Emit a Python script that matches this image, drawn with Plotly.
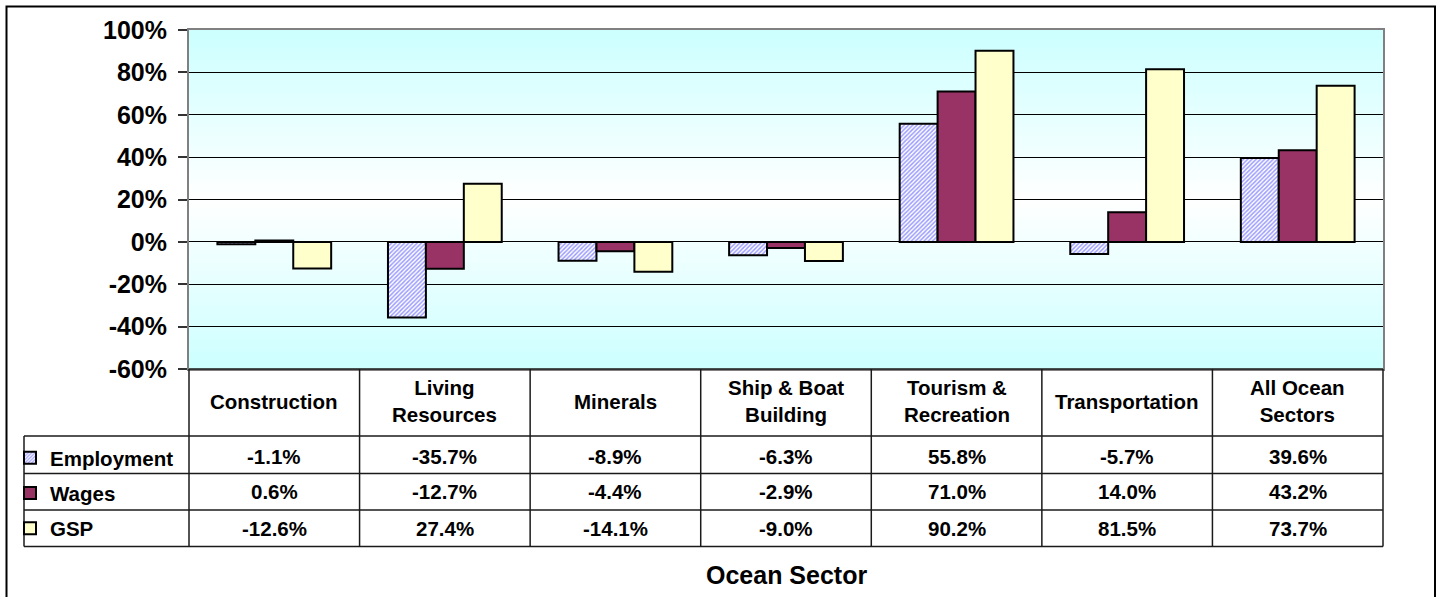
import plotly.graph_objects as go

categories = ["Construction", "Living Resources", "Minerals", "Ship & Boat Building",
              "Tourism & Recreation", "Transportation", "All Ocean Sectors"]
header_labels = ["Construction", "Living<br>Resources", "Minerals", "Ship & Boat<br>Building",
                 "Tourism &<br>Recreation", "Transportation", "All Ocean<br>Sectors"]
employment = [-1.1, -35.7, -8.9, -6.3, 55.8, -5.7, 39.6]
wages = [0.6, -12.7, -4.4, -2.9, 71.0, 14.0, 43.2]
gsp = [-12.6, 27.4, -14.1, -9.0, 90.2, 81.5, 73.7]
series_names = ["Employment", "Wages", "GSP"]
y_ticks = [-60, -40, -20, 0, 20, 40, 60, 80, 100]
y_tick_labels = ["-60%", "-40%", "-20%", "0%", "20%", "40%", "60%", "80%", "100%"]

W, H = 1442, 597
L, R, T, B = 189, 1383, 30, 369   # plot area pixel box
FONT = "Arial, Liberation Sans, sans-serif"
TBL = dict(family=FONT, size=20.5, color="black", weight="bold")


def px_x(px):
    return (px - L) / (R - L)


def px_y(py):
    return (B - py) / (B - T)


fig = go.Figure()
series = [employment, wages, gsp]
colors = ["#FFFFFF", "#993366", "#FFFFCC"]
for i, (name, vals) in enumerate(zip(series_names, series)):
    marker = dict(color=colors[i], line=dict(color="black", width=2))
    if i == 0:
        marker["pattern"] = dict(shape="/", fgcolor="#9C9CFF", bgcolor="#FFFFFF",
                                 size=3, solidity=0.5, fillmode="replace")
    fig.add_trace(go.Bar(x=categories, y=vals, name=name, marker=marker,
                         legendgroup=name, hoverinfo="skip"))

shapes = []
# background gradient: cyan top -> white middle -> cyan bottom
nb = 80
c_edge = (204, 255, 255)
for k in range(nb):
    t0, t1 = k / nb, (k + 1) / nb
    tm = (t0 + t1) / 2
    f = abs(tm - 0.5) * 2
    col = tuple(round(255 + (c - 255) * f) for c in c_edge)
    shapes.append(dict(type="rect", xref="x domain", yref="y domain", x0=0, x1=1,
                       y0=t0, y1=t1 + 0.002, fillcolor="rgb(%d,%d,%d)" % col,
                       line=dict(width=0), layer="below"))

lc = dict(color="#1a1a1a", width=1.5)
row_lines = [436, 473.5, 510, 546.5]
tbl_left = px_x(24)
for py in row_lines:
    shapes.append(dict(type="line", xref="paper", yref="paper", x0=tbl_left, x1=1,
                       y0=px_y(py), y1=px_y(py), line=lc))
n = len(categories)
for i in range(n - 1):
    shapes.append(dict(type="line", xref="x", yref="paper", x0=i + 0.5, x1=i + 0.5,
                       y0=0, y1=px_y(546.5), line=lc))
for xp in [0, 1]:
    shapes.append(dict(type="line", xref="paper", yref="paper", x0=xp, x1=xp,
                       y0=0, y1=px_y(546.5), line=lc))
shapes.append(dict(type="line", xref="paper", yref="paper", x0=tbl_left, x1=tbl_left,
                   y0=px_y(436), y1=px_y(546.5), line=lc))
shapes.append(dict(type="line", xref="paper", yref="paper", x0=0, x1=1,
                   y0=0, y1=0, line=lc))
# outer chart border
shapes.append(dict(type="rect", xref="paper", yref="paper", x0=px_x(6.5), x1=px_x(1435),
                   y0=px_y(6.5), y1=px_y(620), line=dict(color="black", width=2),
                   fillcolor="rgba(0,0,0,0)"))

annotations = []
for i, lab in enumerate(header_labels):
    annotations.append(dict(x=categories[i], xref="x", yref="paper", y=px_y(401),
                            xanchor="center", yanchor="middle",
                            text=lab, showarrow=False, font=TBL))
row_centers = [456, 492, 528.5]
for r, vals in enumerate(series):
    for i, v in enumerate(vals):
        annotations.append(dict(x=categories[i], xref="x", yref="paper", y=px_y(row_centers[r]),
                                xanchor="center", yanchor="middle",
                                text="%.1f%%" % v, showarrow=False, font=TBL))
annotations.append(dict(x=0.5, xref="paper", yref="paper", y=px_y(575),
                        xanchor="center", yanchor="middle",
                        text="Ocean Sector", showarrow=False,
                        font=dict(family=FONT, size=25, color="black", weight="bold")))

fig.update_layout(
    width=W, height=H,
    margin=dict(l=L, r=W - R, t=T, b=H - B, pad=0, autoexpand=False),
    paper_bgcolor="white", plot_bgcolor="rgba(0,0,0,0)",
    barmode="group", bargap=0.333, bargroupgap=0,
    shapes=shapes, annotations=annotations,
    showlegend=True,
    legend=dict(x=px_x(10), xanchor="left", y=px_y(438), yanchor="top",
                bgcolor="rgba(0,0,0,0)", borderwidth=0, traceorder="grouped",
                tracegroupgap=5.5, font=TBL,
                itemclick=False, itemdoubleclick=False),
    font=dict(family=FONT, color="black"),
)
fig.update_xaxes(showticklabels=False, ticks="", showgrid=False, zeroline=False,
                 showline=True, linecolor="#808080", linewidth=2, mirror=True)
fig.update_yaxes(range=[y_ticks[0], y_ticks[-1]], tickmode="array",
                 tickvals=y_ticks, ticktext=y_tick_labels,
                 tickfont=dict(family=FONT, size=25, color="black", weight="bold"),
                 showgrid=True, gridcolor="black", gridwidth=1,
                 zeroline=True, zerolinecolor="black", zerolinewidth=1,
                 ticks="outside", ticklen=9, tickcolor="#333333", tickwidth=1.5,
                 ticklabelstandoff=6,
                 showline=True, linecolor="#808080", linewidth=2, mirror=True,
                 layer="below traces")
fig.write_html("out.html", config={"displayModeBar": False},
               post_script="document.body.style.margin='0px';")
